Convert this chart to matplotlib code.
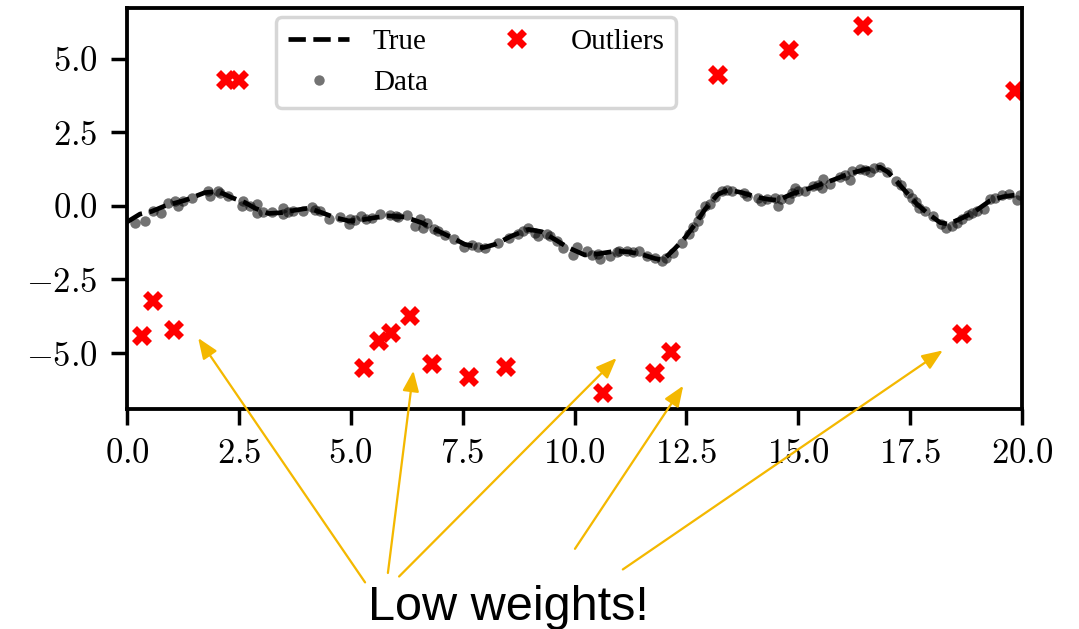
import matplotlib
matplotlib.use('Agg')
import matplotlib.pyplot as plt
from matplotlib.ticker import MultipleLocator, FuncFormatter

plt.rcParams['font.family'] = 'serif'
plt.rcParams['font.serif'] = ['Liberation Serif', 'DejaVu Serif']
plt.rcParams['mathtext.fontset'] = 'cm'

# true curve
true_x = [0.0, 0.29, 0.55, 0.85, 1.30, 1.74, 2.04, 2.34, 2.64, 2.86, 3.16, 3.46, 3.75, 4.05,
          4.35, 4.65, 4.95, 5.24, 5.54, 5.84, 6.21, 6.58, 6.92, 7.26, 7.55, 7.96, 8.22, 8.60,
          8.97, 9.27, 9.56, 9.86, 10.23, 10.53, 10.91, 11.20, 11.50, 11.80, 11.98, 12.25,
          12.47, 12.69, 12.92, 13.21, 13.44, 13.74, 14.03, 14.33, 14.55, 14.85, 15.15, 15.41,
          15.78, 16.16, 16.53, 16.83, 17.01, 17.20, 17.42, 17.65, 17.87, 18.17, 18.35, 18.61,
          18.91, 19.28, 19.58, 20.0]
true_y = [-0.55, -0.28, -0.19, 0.0, 0.19, 0.45, 0.49, 0.28, 0.11, -0.08, -0.26, -0.23, -0.15, -0.08,
          -0.23, -0.40, -0.51, -0.48, -0.40, -0.34, -0.38, -0.57, -0.83, -1.08, -1.31, -1.42, -1.31, -1.02,
          -0.80, -0.88, -1.14, -1.42, -1.67, -1.63, -1.54, -1.56, -1.65, -1.79, -1.84, -1.44,
          -1.08, -0.63, -0.11, 0.40, 0.54, 0.45, 0.31, 0.22, 0.19, 0.40, 0.54, 0.68,
          0.88, 1.10, 1.25, 1.31, 1.14, 0.83, 0.45, 0.06, -0.23, -0.57, -0.62, -0.45,
          -0.23, 0.17, 0.31, 0.40]

# noisy samples
data_x = [0.18, 0.40, 0.59, 0.77, 0.92, 1.07, 1.15, 1.80, 1.86, 2.04, 2.08, 2.56, 2.60, 2.90,
          2.91, 3.25, 3.49, 3.49, 3.72, 3.94, 4.13, 4.31, 4.52, 4.76, 4.95, 4.98,
          5.24, 5.47, 5.65, 5.88, 6.06, 6.25, 6.44, 6.55, 6.62, 6.70, 6.96, 7.52, 7.72, 8.00,
          8.54, 8.74, 8.95, 9.12, 9.19, 9.38, 9.45, 9.75, 9.97, 10.05,
          10.27, 10.53, 10.57, 10.79, 10.94, 11.17, 11.43, 11.61, 11.80, 11.96, 12.19, 12.40,
          12.77, 12.80, 12.92, 13.03, 13.29, 13.51, 13.78, 13.85, 14.11, 14.17, 14.48, 14.54,
          14.61, 14.79, 14.87, 14.93, 15.15, 15.33,
          15.53, 15.56, 15.72, 15.93, 16.16, 16.19, 16.38, 16.60, 16.83, 16.99, 17.19, 17.46,
          17.54, 17.69, 17.83, 18.30, 18.43, 18.54, 18.80, 18.88, 19.14, 19.28, 19.55, 19.72, 19.88,
          1.25, 1.45, 2.25, 2.75, 3.05, 3.60, 4.20, 5.10, 5.35, 6.00, 6.85, 7.10, 7.30, 7.85,
          8.30, 8.85, 9.60, 10.40, 11.00, 11.30, 12.05, 12.55, 12.65, 13.15, 13.40, 14.30,
          15.00, 15.45, 16.05, 16.50, 16.70, 17.30, 17.62, 18.00, 18.20, 18.65, 19.00, 19.40, 19.95]
data_y = [-0.57, -0.52, -0.17, -0.23, 0.11, 0.17, -0.01, 0.51, 0.34, 0.51, 0.43, -0.01, 0.17, 0.06,
          -0.24, -0.20, -0.06, -0.28, -0.17, -0.19, -0.03, -0.17, -0.45, -0.37, -0.62, -0.45,
          -0.34, -0.40, -0.28, -0.32, -0.38, -0.31, -0.68, -0.46, -0.74, -0.57, -0.85, -1.40, -1.34, -1.42,
          -1.08, -0.94, -0.74, -0.91, -1.02, -0.97, -1.02, -1.42, -1.67, -1.40,
          -1.53, -1.63, -1.82, -1.70, -1.56, -1.53, -1.53, -1.70, -1.78, -1.87, -1.59, -1.25,
          -0.51, -0.28, 0.00, 0.06, 0.51, 0.51, 0.45, 0.34, 0.26, 0.15, 0.28, 0.00,
          0.23, 0.23, 0.45, 0.62, 0.49, 0.68,
          0.62, 0.91, 0.74, 0.97, 0.88, 1.19, 1.25, 1.14, 1.33, 1.14, 0.85, 0.45,
          0.28, -0.06, -0.19, -0.76, -0.68, -0.57, -0.31, -0.23, -0.11, 0.23, 0.37, 0.40, 0.19,
          0.15, 0.28, 0.35, -0.02, -0.22, -0.20, -0.15, -0.48, -0.45, -0.35, -0.78, -0.98, -1.12, -1.40,
          -1.25, -0.85, -1.20, -1.66, -1.55, -1.57, -1.78, -0.95, -0.72, 0.30, 0.54, 0.22,
          0.50, 0.72, 1.05, 1.22, 1.30, 0.70, 0.12, -0.35, -0.62, -0.45, -0.18, 0.25, 0.38]

outlier_x = [0.33, 0.57, 1.05, 2.21, 2.51, 5.30, 5.62, 5.89, 6.32, 6.82, 7.65, 8.48,
             10.64, 11.80, 12.16, 13.21, 14.79, 16.45, 18.65, 19.84]
outlier_y = [-4.41, -3.24, -4.21, 4.27, 4.27, -5.52, -4.58, -4.32, -3.75, -5.37, -5.80, -5.46,
             -6.37, -5.67, -4.95, 4.44, 5.31, 6.11, -4.36, 3.90]

# arrows: tip (data coords) and tail (data coords, below the axes)
tip_x = [1.59, 6.40, 10.94, 12.43, 18.23]
tip_y = [-4.49, -5.60, -5.17, -6.11, -4.91]
tail_x = [5.32, 5.83, 6.08, 10.01, 11.08]
tail_y = [-12.79, -12.47, -12.59, -11.65, -12.35]

fig = plt.figure(figsize=(1079 / 250, 629 / 250), dpi=250)
ax = fig.add_axes([0.1177, 0.3498, 0.8295, 0.6375])

ax.plot(true_x, true_y, color='k', linestyle='--', lw=1.35, label='True')
ax.plot(data_x, data_y, 'o', color='k', alpha=0.55, ms=3.0, mew=0, label='Data')
ax.plot(outlier_x, outlier_y, 'X', color='red', ms=5.6, mew=0, label='Outliers')

ax.set_xlim(0, 20)
ax.set_ylim(-6.9, 6.72)
ax.xaxis.set_major_locator(MultipleLocator(2.5))
ax.yaxis.set_major_locator(MultipleLocator(2.5))
fmt = FuncFormatter(lambda v, p: '$%.1f$' % v)
ax.xaxis.set_major_formatter(fmt)
ax.yaxis.set_major_formatter(fmt)
ax.tick_params(labelsize=10, length=4.5, width=1.0, pad=4)
for s in ax.spines.values():
    s.set_linewidth(1.1)

ax.legend(ncol=2, fontsize=8.4, handlelength=2.1, loc='upper left',
          bbox_to_anchor=(0.167, 0.977), borderaxespad=0)

for i in range(len(tip_x)):
    ax.annotate('', xy=(tip_x[i], tip_y[i]), xytext=(tail_x[i], tail_y[i]),
                annotation_clip=False,
                arrowprops=dict(arrowstyle='-|>,head_length=0.5,head_width=0.2',
                                mutation_scale=10, color='#f4b800', lw=0.65,
                                shrinkA=0, shrinkB=0))

fig.text(368 / 1079, 1 - 620 / 629, 'Low weights!', family='Liberation Sans', fontsize=14,
         ha='left', va='baseline')

fig.savefig('out.png', dpi=250)
